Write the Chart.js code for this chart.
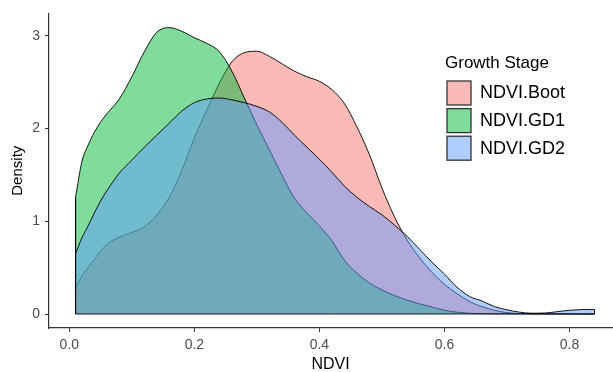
<!DOCTYPE html>
<html>
<head>
<meta charset="utf-8">
<script src="https://cdn.jsdelivr.net/npm/chart.js@4.4.1/dist/chart.umd.min.js"></script>
<style>
  html, body { margin: 0; padding: 0; background: #fff; }
  canvas { display: block; }
</style>
</head>
<body>
<canvas id="density-chart" width="613" height="372"></canvas>
<script>
// NDVI grid the densities were read at
const ndvi = [0.01, 0.02, 0.03, 0.04, 0.05, 0.06, 0.08, 0.10, 0.12, 0.14, 0.16, 0.18, 0.20,
  0.22, 0.24, 0.26, 0.28, 0.30, 0.32, 0.34, 0.36, 0.38, 0.40, 0.42, 0.44, 0.46, 0.48, 0.50,
  0.52, 0.54, 0.56, 0.58, 0.60, 0.62, 0.64, 0.66, 0.68, 0.70, 0.72, 0.74, 0.76, 0.78, 0.80,
  0.82, 0.84];

const bootDensity = [0.28, 0.41, 0.50, 0.59, 0.68, 0.75, 0.83, 0.88, 0.94, 1.07, 1.26, 1.55, 1.90,
  2.20, 2.49, 2.72, 2.82, 2.835, 2.78, 2.70, 2.62, 2.56, 2.51, 2.42, 2.27, 2.02, 1.72, 1.36,
  1.05, 0.80, 0.61, 0.45, 0.32, 0.22, 0.135, 0.08, 0.04, 0.015, 0.005, 0.002, 0.001, 0.001, 0.001,
  0.001, 0.001];

const gd1Density = [1.26, 1.64, 1.82, 1.96, 2.07, 2.16, 2.32, 2.56, 2.83, 3.04, 3.09, 3.05, 2.98,
  2.92, 2.83, 2.62, 2.33, 2.04, 1.77, 1.50, 1.25, 1.09, 0.95, 0.79, 0.58, 0.44, 0.335, 0.26,
  0.20, 0.15, 0.11, 0.075, 0.04, 0.02, 0.008, 0.004, 0.003, 0.003, 0.003, 0.004, 0.004, 0.003, 0.002,
  0.001, 0.001];

const gd2Density = [0.65, 0.82, 0.95, 1.09, 1.22, 1.33, 1.52, 1.66, 1.80, 1.93, 2.06, 2.19, 2.28,
  2.32, 2.33, 2.31, 2.28, 2.24, 2.18, 2.07, 1.93, 1.80, 1.67, 1.53, 1.38, 1.26, 1.16, 1.07,
  0.96, 0.84, 0.70, 0.56, 0.43, 0.29, 0.19, 0.14, 0.08, 0.045, 0.02, 0.008, 0.01, 0.025, 0.04,
  0.048, 0.05];

const stageNames = ["NDVI.Boot", "NDVI.GD1", "NDVI.GD2"];
const stageFills = ["rgba(248,118,109,0.5)", "rgba(0,186,56,0.5)", "rgba(97,156,255,0.5)"];

const xTicks = [0, 0.2, 0.4, 0.6, 0.8];
const yTicks = [0, 1, 2, 3];

const FONT = '"Liberation Sans", Arial, sans-serif';
const AXIS_COLOR = "#333333";

const toPoints = (ys) => ndvi.map((x, i) => ({ x: x, y: ys[i] }));

const allSeries = [bootDensity, gd1Density, gd2Density];
const first = ndvi[0];
const last = ndvi[ndvi.length - 1];
// outline of the polygons: left edge, baseline, right edge
const frame = [
  { x: first, y: Math.max(...allSeries.map((s) => s[0])) },
  { x: first, y: 0 },
  { x: last, y: 0 },
  { x: last, y: Math.max(...allSeries.map((s) => s[s.length - 1])) },
];

const makeSet = (i, ys, order) => ({
  label: stageNames[i],
  data: toPoints(ys),
  backgroundColor: stageFills[i],
  borderColor: "rgba(0,0,0,0.9)",
  borderWidth: 1,
  fill: "origin",
  pointRadius: 0,
  cubicInterpolationMode: "monotone",
  order: order,
});

const legendPlugin = {
  id: "stageLegend",
  afterDraw(chart) {
    const ctx = chart.ctx;
    ctx.save();
    ctx.textBaseline = "middle";
    ctx.textAlign = "left";
    ctx.fillStyle = "#000";
    ctx.font = "17px " + FONT;
    ctx.fillText("Growth Stage", 445, 63);
    stageNames.forEach((name, i) => {
      const top = 81 + i * 27.6;
      ctx.fillStyle = "#fff";
      ctx.fillRect(447, top, 24, 24);
      ctx.fillStyle = stageFills[i];
      ctx.fillRect(447, top, 24, 24);
      ctx.strokeStyle = AXIS_COLOR;
      ctx.lineWidth = 1.3;
      ctx.strokeRect(447, top, 24, 24);
      ctx.fillStyle = "#000";
      ctx.font = "18px " + FONT;
      ctx.fillText(name, 480, top + 12.5);
    });
    ctx.restore();
  },
};

const ctx = document.getElementById("density-chart");

new Chart(ctx, {
  type: "line",
  data: {
    datasets: [
      makeSet(0, bootDensity, 3),
      makeSet(1, gd1Density, 2),
      makeSet(2, gd2Density, 1),
      {
        label: "outline",
        data: frame,
        borderColor: "rgba(0,0,0,0.9)",
        borderWidth: 1,
        fill: false,
        pointRadius: 0,
        tension: 0,
        order: 0,
      },
    ],
  },
  options: {
    responsive: false,
    animation: false,
    layout: { padding: { top: 13, right: 1, left: 0, bottom: 0 } },
    plugins: {
      legend: { display: false },
      tooltip: { enabled: false },
    },
    scales: {
      x: {
        type: "linear",
        min: -0.0325,
        max: 0.868,
        afterBuildTicks: (scale) => {
          scale.ticks = xTicks.map((v) => ({ value: v }));
        },
        afterFit: (scale) => {
          scale.height = 44;
        },
        ticks: {
          padding: 5,
          color: "#4D4D4D",
          font: { family: FONT, size: 14 },
          callback: (v) => v.toFixed(1),
        },
        grid: { drawOnChartArea: false, drawTicks: true, tickLength: 4, color: AXIS_COLOR },
        border: { display: true, color: AXIS_COLOR, width: 1.2 },
        title: {
          display: true,
          text: "NDVI",
          color: "#000",
          font: { family: FONT, size: 16 },
          padding: { top: 0, bottom: -2 },
        },
      },
      y: {
        type: "linear",
        min: -0.151,
        max: 3.243,
        afterBuildTicks: (scale) => {
          scale.ticks = yTicks.map((v) => ({ value: v }));
        },
        afterFit: (scale) => {
          scale.width = 49;
        },
        ticks: {
          padding: 5,
          color: "#4D4D4D",
          font: { family: FONT, size: 14 },
          callback: (v) => String(v),
        },
        grid: { drawOnChartArea: false, drawTicks: true, tickLength: 4, color: AXIS_COLOR },
        border: { display: true, color: AXIS_COLOR, width: 1.2 },
        title: {
          display: true,
          text: "Density",
          color: "#000",
          font: { family: FONT, size: 15 },
          padding: { top: 8.5, bottom: 0 },
        },
      },
    },
  },
  plugins: [legendPlugin],
});
</script>
</body>
</html>
